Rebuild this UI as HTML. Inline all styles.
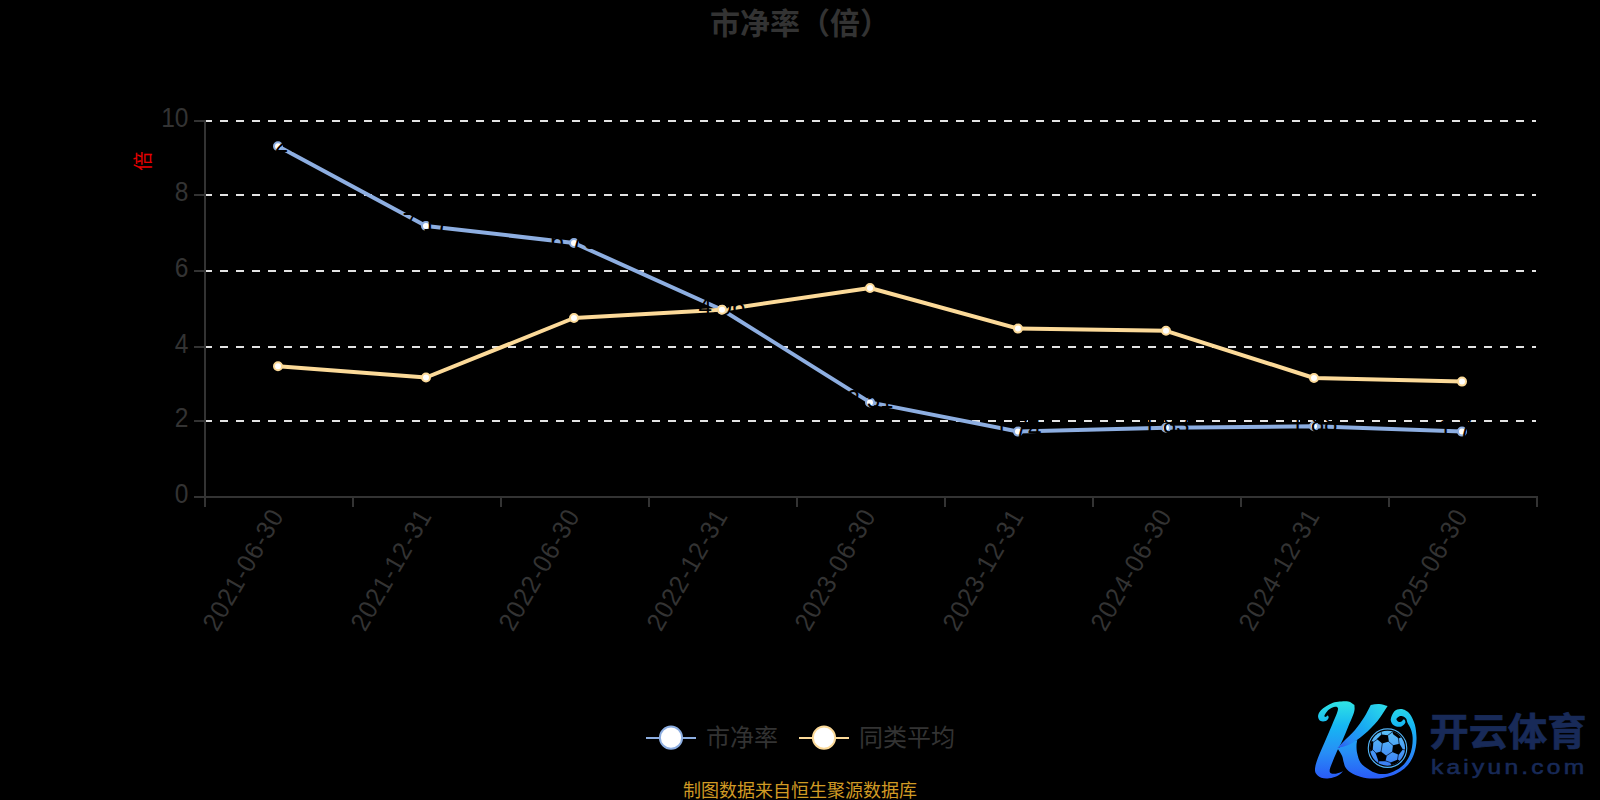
<!DOCTYPE html>
<html lang="zh"><head><meta charset="utf-8"><title>市净率（倍）</title>
<style>html,body{margin:0;padding:0;background:#000;}body{width:1600px;height:800px;overflow:hidden;}svg{display:block;font-family:"Liberation Sans", "Noto Sans CJK SC", sans-serif;}</style></head><body>
<svg width="1600" height="800" viewBox="0 0 1600 800">
<rect width="1600" height="800" fill="#000"/>
<text x="800" y="34" font-size="30" font-weight="bold" fill="#333" text-anchor="middle">市净率（倍）</text>
<line x1="204" y1="121" x2="1536" y2="121" stroke="#e3e3e3" stroke-width="2" stroke-dasharray="8 8"/>
<line x1="204" y1="195" x2="1536" y2="195" stroke="#e3e3e3" stroke-width="2" stroke-dasharray="8 8"/>
<line x1="204" y1="271" x2="1536" y2="271" stroke="#e3e3e3" stroke-width="2" stroke-dasharray="8 8"/>
<line x1="204" y1="347" x2="1536" y2="347" stroke="#e3e3e3" stroke-width="2" stroke-dasharray="8 8"/>
<line x1="204" y1="421" x2="1536" y2="421" stroke="#e3e3e3" stroke-width="2" stroke-dasharray="8 8"/>
<g fill="#333333">
<rect x="204" y="120" width="2" height="378"/>
<rect x="204" y="496" width="1334" height="2"/>
<rect x="204" y="496" width="2" height="11"/>
<rect x="352" y="496" width="2" height="11"/>
<rect x="500" y="496" width="2" height="11"/>
<rect x="648" y="496" width="2" height="11"/>
<rect x="796" y="496" width="2" height="11"/>
<rect x="944" y="496" width="2" height="11"/>
<rect x="1092" y="496" width="2" height="11"/>
<rect x="1240" y="496" width="2" height="11"/>
<rect x="1388" y="496" width="2" height="11"/>
<rect x="1536" y="496" width="2" height="11"/>
<rect x="194" y="120" width="11" height="2"/>
<rect x="194" y="194" width="11" height="2"/>
<rect x="194" y="270" width="11" height="2"/>
<rect x="194" y="346" width="11" height="2"/>
<rect x="194" y="420" width="11" height="2"/>
<rect x="194" y="496" width="11" height="2"/>
</g>
<g font-size="27" fill="#333333" text-anchor="end">
<text transform="translate(188.5,126.5) scale(0.91,1)" x="0" y="0">10</text>
<text transform="translate(188.5,200.5) scale(0.91,1)" x="0" y="0">8</text>
<text transform="translate(188.5,276.5) scale(0.91,1)" x="0" y="0">6</text>
<text transform="translate(188.5,352.5) scale(0.91,1)" x="0" y="0">4</text>
<text transform="translate(188.5,426.5) scale(0.91,1)" x="0" y="0">2</text>
<text transform="translate(188.5,502.5) scale(0.91,1)" x="0" y="0">0</text>
</g>
<g font-size="26" fill="#333333" text-anchor="end" letter-spacing="1.3">
<text transform="translate(277.4,510.7) rotate(-60) scale(0.93,1)" x="0" y="8.5">2021-06-30</text>
<text transform="translate(425.4,510.7) rotate(-60) scale(0.93,1)" x="0" y="8.5">2021-12-31</text>
<text transform="translate(573.4,510.7) rotate(-60) scale(0.93,1)" x="0" y="8.5">2022-06-30</text>
<text transform="translate(721.4,510.7) rotate(-60) scale(0.93,1)" x="0" y="8.5">2022-12-31</text>
<text transform="translate(869.4,510.7) rotate(-60) scale(0.93,1)" x="0" y="8.5">2023-06-30</text>
<text transform="translate(1017.4,510.7) rotate(-60) scale(0.93,1)" x="0" y="8.5">2023-12-31</text>
<text transform="translate(1165.4,510.7) rotate(-60) scale(0.93,1)" x="0" y="8.5">2024-06-30</text>
<text transform="translate(1313.4,510.7) rotate(-60) scale(0.93,1)" x="0" y="8.5">2024-12-31</text>
<text transform="translate(1461.4,510.7) rotate(-60) scale(0.93,1)" x="0" y="8.5">2025-06-30</text>
</g>
<text transform="translate(143,161) rotate(-90)" font-size="19.5" fill="#e60000" text-anchor="middle" x="0" y="7">倍</text>
<polyline points="278,146.3 426,225.9 574,243.0 722,309.7 870,402.4 1018,431.6 1166,427.8 1314,426.3 1462,431.6" fill="none" stroke="#8daee1" stroke-width="4" stroke-linejoin="bevel"/>
<polyline points="278,366.2 426,377.5 574,318.0 722,309.7 870,288.0 1018,328.6 1166,330.8 1314,378.0 1462,381.6" fill="none" stroke="#fcda99" stroke-width="4" stroke-linejoin="bevel"/>
<circle cx="278" cy="146.3" r="4" fill="#fff" stroke="#8daee1" stroke-width="2"/>
<circle cx="426" cy="225.9" r="4" fill="#fff" stroke="#8daee1" stroke-width="2"/>
<circle cx="574" cy="243.0" r="4" fill="#fff" stroke="#8daee1" stroke-width="2"/>
<circle cx="722" cy="309.7" r="4" fill="#fff" stroke="#8daee1" stroke-width="2"/>
<circle cx="870" cy="402.4" r="4" fill="#fff" stroke="#8daee1" stroke-width="2"/>
<circle cx="1018" cy="431.6" r="4" fill="#fff" stroke="#8daee1" stroke-width="2"/>
<circle cx="1166" cy="427.8" r="4" fill="#fff" stroke="#8daee1" stroke-width="2"/>
<circle cx="1314" cy="426.3" r="4" fill="#fff" stroke="#8daee1" stroke-width="2"/>
<circle cx="1462" cy="431.6" r="4" fill="#fff" stroke="#8daee1" stroke-width="2"/>
<g font-size="26" fill="#000" text-anchor="middle">
<text transform="translate(278,151.8) scale(0.93,1)" x="0" y="0">9.27</text>
<text transform="translate(426,231.4) scale(0.93,1)" x="0" y="0">7.17</text>
<text transform="translate(574,248.5) scale(0.93,1)" x="0" y="0">6.75</text>
<text transform="translate(722,315.2) scale(0.93,1)" x="0" y="0">4.96</text>
<text transform="translate(870,407.9) scale(0.93,1)" x="0" y="0">2.51</text>
<text transform="translate(1018,437.1) scale(0.93,1)" x="0" y="0">1.74</text>
<text transform="translate(1166,433.3) scale(0.93,1)" x="0" y="0">1.83</text>
<text transform="translate(1314,431.8) scale(0.93,1)" x="0" y="0">1.88</text>
<text transform="translate(1462,437.1) scale(0.93,1)" x="0" y="0">1.74</text>
</g>
<circle cx="278" cy="366.2" r="4" fill="#fff" stroke="#fcda99" stroke-width="2"/>
<circle cx="426" cy="377.5" r="4" fill="#fff" stroke="#fcda99" stroke-width="2"/>
<circle cx="574" cy="318.0" r="4" fill="#fff" stroke="#fcda99" stroke-width="2"/>
<circle cx="722" cy="309.7" r="4" fill="#fff" stroke="#fcda99" stroke-width="2"/>
<circle cx="870" cy="288.0" r="4" fill="#fff" stroke="#fcda99" stroke-width="2"/>
<circle cx="1018" cy="328.6" r="4" fill="#fff" stroke="#fcda99" stroke-width="2"/>
<circle cx="1166" cy="330.8" r="4" fill="#fff" stroke="#fcda99" stroke-width="2"/>
<circle cx="1314" cy="378.0" r="4" fill="#fff" stroke="#fcda99" stroke-width="2"/>
<circle cx="1462" cy="381.6" r="4" fill="#fff" stroke="#fcda99" stroke-width="2"/>
<line x1="646" y1="738" x2="696" y2="738" stroke="#8daee1" stroke-width="2"/><circle cx="671" cy="737.7" r="11.1" fill="#fff" stroke="#8daee1" stroke-width="2"/><text x="706" y="745.5" font-size="24" fill="#333">市净率</text>
<line x1="799" y1="738" x2="849" y2="738" stroke="#fcda99" stroke-width="2"/><circle cx="824" cy="737.7" r="11.1" fill="#fff" stroke="#fcda99" stroke-width="2"/><text x="859" y="745.5" font-size="24" fill="#333">同类平均</text>
<text x="800" y="796.5" font-size="18" fill="#d09a24" text-anchor="middle">制图数据来自恒生聚源数据库</text>
<defs>
<linearGradient id="kg" gradientUnits="userSpaceOnUse" x1="0" y1="90" x2="0" y2="710"><stop offset="0" stop-color="#30e4e4"/><stop offset="0.32" stop-color="#16b6f3"/><stop offset="0.66" stop-color="#278ef6"/><stop offset="1" stop-color="#2a5af7"/></linearGradient>
<linearGradient id="bg" gradientUnits="userSpaceOnUse" x1="0" y1="320" x2="0" y2="610"><stop offset="0" stop-color="#5cc2f7"/><stop offset="1" stop-color="#3a7cf5"/></linearGradient>
<linearGradient id="ag" gradientUnits="userSpaceOnUse" x1="660" y1="120" x2="300" y2="470"><stop offset="0" stop-color="#2bd8ea"/><stop offset="0.45" stop-color="#19acf2"/><stop offset="0.78" stop-color="#2687f5"/><stop offset="1" stop-color="#2f52ee"/></linearGradient>
</defs>
<g transform="translate(1300,690) scale(0.125)">
<g fill="url(#kg)">
<path d="M300.0 465.0 C312.0 485.3 327.7 506.8 336.0 526.0 C344.3 545.2 344.7 563.5 350.0 580.0 C355.3 596.5 356.0 610.0 368.0 625.0 C380.0 640.0 398.0 657.3 422.0 670.0 C446.0 682.7 482.3 694.7 512.0 701.0 C541.7 707.3 575.3 707.7 600.0 708.0 C624.7 708.3 638.3 706.8 660.0 703.0 C681.7 699.2 706.3 693.7 730.0 685.0 C753.7 676.3 779.5 665.7 802.0 651.0 C824.5 636.3 847.8 617.2 865.0 597.0 C882.2 576.8 894.8 553.2 905.0 530.0 C915.2 506.8 921.5 483.5 926.0 458.0 C930.5 432.5 933.2 407.0 932.0 377.0 C930.8 347.0 927.2 308.0 919.0 278.0 C910.8 248.0 895.3 216.2 883.0 197.0 C870.7 177.8 858.5 170.5 845.0 163.0 C831.5 155.5 817.0 150.8 802.0 152.0 C787.0 153.2 767.7 156.5 755.0 170.0 C742.3 183.5 728.2 215.5 726.0 233.0 C723.8 250.5 733.0 265.0 742.0 275.0 C751.0 285.0 767.8 290.5 780.0 293.0 C792.2 295.5 804.7 295.2 815.0 290.0 C825.3 284.8 838.2 270.3 842.0 262.0 C845.8 253.7 841.0 244.0 838.0 240.0 C835.0 236.0 827.8 236.3 824.0 238.0 C820.2 239.7 820.2 247.0 815.0 250.0 C809.8 253.0 800.3 258.8 793.0 256.0 C785.7 253.2 771.0 240.5 771.0 233.0 C771.0 225.5 784.8 214.8 793.0 211.0 C801.2 207.2 810.8 207.2 820.0 210.0 C829.2 212.8 841.3 219.3 848.0 228.0 C854.7 236.7 853.5 247.7 860.0 262.0 C866.5 276.3 880.2 294.8 887.0 314.0 C893.8 333.2 899.5 353.0 901.0 377.0 C902.5 401.0 900.5 432.5 896.0 458.0 C891.5 483.5 884.5 507.5 874.0 530.0 C863.5 552.5 849.5 575.0 833.0 593.0 C816.5 611.0 795.2 626.0 775.0 638.0 C754.8 650.0 734.5 659.3 712.0 665.0 C689.5 670.7 660.3 673.2 640.0 672.0 C619.7 670.8 605.3 664.3 590.0 658.0 C574.7 651.7 565.5 646.7 548.0 634.0 C530.5 621.3 500.0 603.0 485.0 582.0 C470.0 561.0 463.5 530.8 458.0 508.0 C452.5 485.2 452.0 463.0 452.0 445.0 C452.0 427.0 456.0 415.0 458.0 400.0 C438.7 406.7 418.0 413.0 400.0 420.0 C382.0 427.0 366.7 434.5 350.0 442.0 C333.3 449.5 316.7 457.3 300.0 465.0 Z"/>
<path d="M305.0 94.0 C327.5 91.5 364.2 88.0 386.0 92.2 C407.8 96.4 419.0 110.2 435.5 119.2 C434.6 137.8 441.1 146.2 432.8 175.0 C424.6 203.8 401.3 254.5 386.0 292.0 C370.7 329.5 356.0 367.0 341.0 400.0 C326.0 433.0 311.0 457.0 296.0 490.0 C281.0 523.0 260.8 572.5 251.0 598.0 C241.2 623.5 238.2 631.8 237.5 643.0 C236.8 654.2 238.2 661.0 246.5 665.5 C254.8 670.0 270.5 672.5 287.0 670.0 C303.5 667.5 326.0 656.8 345.5 650.2 C332.0 661.3 323.8 674.2 305.0 683.5 C286.2 692.8 255.5 703.0 233.0 706.0 C210.5 709.0 187.2 707.5 170.0 701.5 C152.8 695.5 137.8 682.8 129.5 670.0 C121.2 657.2 118.2 646.0 120.5 625.0 C122.8 604.0 130.2 578.5 143.0 544.0 C155.8 509.5 179.0 460.0 197.0 418.0 C215.0 376.0 234.5 331.0 251.0 292.0 C267.5 253.0 287.0 207.7 296.0 184.0 C305.0 160.3 302.0 161.2 305.0 149.8 C300.5 144.7 300.5 135.4 291.5 134.5 C282.5 133.6 263.8 137.9 251.0 144.4 C238.2 150.9 224.3 162.9 215.0 173.2 C205.7 183.6 196.7 199.3 195.2 206.5 C193.7 213.7 202.4 213.1 206.0 216.4 C211.4 212.2 218.5 202.5 222.2 203.8 C226.0 205.2 231.2 217.0 228.5 224.5 C225.8 232.0 216.5 244.8 206.0 248.8 C195.5 252.9 175.7 254.4 165.5 248.8 C155.3 243.2 146.3 227.8 144.8 215.5 C143.3 203.2 147.8 188.1 156.5 175.0 C165.2 161.9 181.2 148.4 197.0 137.2 C212.8 125.9 233.0 114.7 251.0 107.5 C269.0 100.3 282.5 96.5 305.0 94.0 Z"/>
<path fill="url(#ag)" d="M566.0 119.2 C588.5 116.8 611.0 110.5 633.5 112.0 C656.0 113.5 678.5 122.8 701.0 128.2 C674.0 167.8 651.5 209.2 620.0 247.0 C588.5 284.8 549.5 323.5 512.0 355.0 C474.5 386.5 430.6 417.7 395.0 436.0 C359.4 454.3 330.8 455.2 298.7 464.8 C315.8 446.2 326.4 433.3 350.0 409.0 C373.6 384.7 413.0 350.5 440.0 319.0 C467.0 287.5 491.0 253.3 512.0 220.0 C533.0 186.7 548.0 152.8 566.0 119.2 Z"/>
</g>
<circle cx="700.1" cy="465.1" r="154" fill="none" stroke="#52b2f5" stroke-width="9"/>
<circle cx="700.1" cy="465.1" r="140" fill="url(#bg)"/>
<clipPath id="bc"><circle cx="700.1" cy="465.1" r="140"/></clipPath>
<g clip-path="url(#bc)">
<polygon fill="#000" points="614.7,391.5 651.1,355.2 703.9,361.8 710.6,411.3 657.7,427.8"/>
<polygon fill="#000" points="743.6,442.7 796.4,429.4 822.9,475.7 789.8,518.7 737.0,495.5"/>
<polygon fill="#000" points="604.4,504.5 647.4,491.2 693.7,527.6 683.7,570.5 627.6,570.5"/>
<polygon fill="#000" points="738.2,328.0 771.2,337.9 810.9,377.5 789.7,387.4 744.8,354.4"/>
<polygon fill="#000" points="720.2,581.9 783.0,556.8 799.5,568.7 740.0,611.7"/>
<polygon fill="#000" points="563.6,400.9 586.7,414.2 582.1,480.2 563.6,493.5 550.4,467.0 550.4,427.4"/>
<line x1="653.6" y1="360.4" x2="648.0" y2="329.6" stroke="#03122e" stroke-width="6"/>
<line x1="698.4" y1="366.0" x2="743.2" y2="332.4" stroke="#03122e" stroke-width="6"/>
<line x1="704.0" y1="408.0" x2="748.8" y2="447.2" stroke="#03122e" stroke-width="6"/>
<line x1="659.2" y1="422.0" x2="648.0" y2="497.6" stroke="#03122e" stroke-width="6"/>
<line x1="622.8" y1="391.2" x2="583.6" y2="419.2" stroke="#03122e" stroke-width="6"/>
<line x1="793.6" y1="436.0" x2="786.9" y2="382.8" stroke="#03122e" stroke-width="6"/>
<line x1="816.0" y1="475.2" x2="849.6" y2="480.8" stroke="#03122e" stroke-width="6"/>
<line x1="788.0" y1="511.6" x2="779.6" y2="560.3" stroke="#03122e" stroke-width="6"/>
<line x1="743.2" y1="492.0" x2="687.2" y2="528.4" stroke="#03122e" stroke-width="6"/>
<line x1="678.8" y1="564.8" x2="726.4" y2="581.6" stroke="#03122e" stroke-width="6"/>
<line x1="631.2" y1="564.8" x2="620.0" y2="598.4" stroke="#03122e" stroke-width="6"/>
<line x1="611.6" y1="508.8" x2="579.7" y2="475.2" stroke="#03122e" stroke-width="6"/>
<line x1="743.2" y1="606.8" x2="726.4" y2="632.0" stroke="#03122e" stroke-width="6"/>
</g>
</g>
<text x="1429.5" y="745.2" font-size="38" font-weight="bold" fill="#182a58" stroke="#182a58" stroke-width="0.7" textLength="157" lengthAdjust="spacingAndGlyphs">开云体育</text>
<text transform="translate(1431,773.7) scale(1.17,1)" x="0" y="0" font-size="21" fill="#182a58" stroke="#182a58" stroke-width="0.6" letter-spacing="2.75">kaiyun.com</text>
</svg></body></html>
